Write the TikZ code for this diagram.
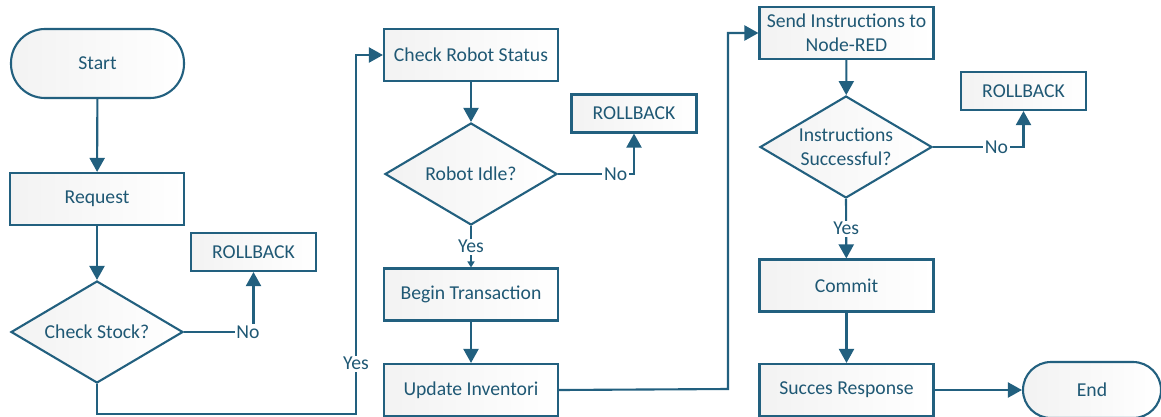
\documentclass[tikz,border=0pt]{standalone}
\usepackage{fontspec}
\setmainfont{Carlito}
\usetikzlibrary{shapes.geometric,arrows.meta}
\definecolor{flowline}{HTML}{22607F}
\definecolor{flowtext}{HTML}{1F5874}
\tikzset{
  base/.style={draw=flowline, line width=1.2pt, text=flowtext,
    left color=black!5, right color=white, inner sep=2pt,
    font=\fontsize{11.2}{13.5}\selectfont, align=center},
  proc/.style={base, rectangle, minimum width=34.8mm, minimum height=10.4mm},
  rollback/.style={base, rectangle, minimum width=25mm, minimum height=7.6mm},
  term/.style={base, rectangle, rounded corners=6.8mm, minimum width=34.6mm, minimum height=13.8mm},
  decision/.style={base, diamond, aspect=1.7, inner sep=0pt, minimum width=34.4mm, minimum height=20.4mm},
  lbl/.style={fill=white, text=flowtext, inner sep=1pt, font=\fontsize{11.2}{13.5}\selectfont},
  arr/.style={draw=flowline, line width=1.2pt, -{Triangle[length=2.8mm,width=3mm]}},
  arrsmall/.style={draw=flowline, line width=1.2pt, -{Triangle[length=1.2mm,width=1.4mm]}}
}
\begin{document}
\begin{tikzpicture}[x=0.2mm,y=-0.2mm]
      \useasboundingbox (0,0) rectangle (1161,416);
      \draw
        (97.5,63.5) node[term] (start){Start}
        (97,199) node[proc] (request){Request}
        (97,332) node[decision] (stock){Check Stock?}
        (253.5,252) node[rollback] (rb1){ROLLBACK}
        (471,55) node[proc] (robot){Check Robot Status}
        (471,174) node[decision] (idle){Robot Idle?}
        (634,113.5) node[rollback] (rb2){ROLLBACK}
        (471,294.5) node[proc] (begin){Begin Transaction}
        (471,390) node[proc] (update){Update Inventori}
        (846.5,33) node[proc] (send){Send Instructions to\\Node-RED}
        (846,147) node[decision] (instr){Instructions\\Successful?}
        (1023.5,91) node[rollback] (rb3){ROLLBACK}
        (846.5,285.5) node[proc] (commit){Commit}
        (846.5,390) node[proc] (resp){Succes Response}
        (1092,390) node[term, minimum width=27.6mm, minimum height=11.2mm, rounded corners=5.6mm] (end){End};
      \coordinate (bend1) at (356,414);
      \coordinate (bend2) at (728,389);
      \begin{scope}[arr]
        \draw (start) to (request);
        \draw (request) to (stock);
        \draw (stock.east) -| node[lbl, pos=0.46]{No} (rb1);
        \draw (stock.south) |- (bend1) |- node[lbl, pos=0.07]{Yes} (robot.west);
        \draw (robot) to (idle);
        \draw (idle.east) -| node[lbl, pos=0.38]{No} (rb2);
        \draw[arrsmall] (idle.south) -- node[lbl]{Yes} (begin);
        \draw (begin) to (update);
        \draw (update.east) -- (bend2) |- (send.west);
        \draw (send) to (instr);
        \draw (instr.east) -| node[lbl, pos=0.35]{No} (rb3);
        \draw (instr.south) -- node[lbl]{Yes} (commit);
        \draw (commit) to (resp);
        \draw (resp) to (end);
      \end{scope}
    \end{tikzpicture}
\end{document}
